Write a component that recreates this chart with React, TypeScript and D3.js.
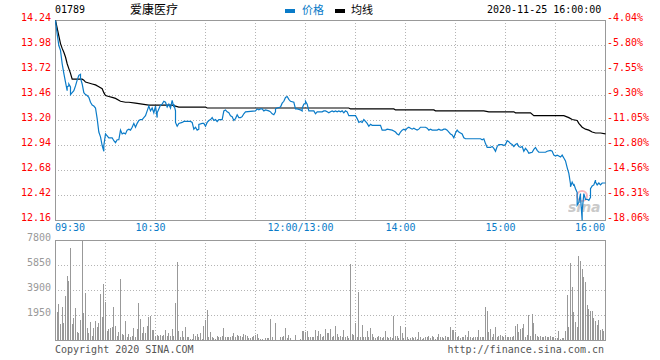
import * as d3 from "d3";

const W = 660;
const H = 360;
const LEFT = 55;
const RIGHT = 605;
const P_TOP = 20;
const P_BOT = 220;
const V_TOP = 240;
const V_BOT = 340;

const STOCK_CODE = "01789";
const STOCK_NAME = "爱康医疗";
const STAMP = "2020-11-25 16:00:00";
const LEGEND = ["价格", "均线"];

const PRICE_TICKS = [14.24, 13.98, 13.72, 13.46, 13.2, 12.94, 12.68, 12.42, 12.16];
const PCT_TICKS = ["-4.04%", "-5.80%", "-7.55%", "-9.30%", "-11.05%", "-12.80%", "-14.56%", "-16.31%", "-18.06%"];
const VOL_TICKS = [7800, 5850, 3900, 1950];
const TIME_TICKS: [number, string][] = [
  [0, "09:30"],
  [60, "10:30"],
  [150, "12:00/13:00"],
  [210, "14:00"],
  [270, "15:00"],
  [330, "16:00"],
];

// [minutes since open (lunch removed), price]
const PRICE: [number, number][] = [
  [0, 14.24], [1, 14.1], [2, 13.98], [3, 13.93], [4, 13.79], [5, 13.69], [6, 13.6], [7, 13.51], [7, 13.55],
  [8, 13.56], [8, 13.58], [9, 13.55], [9, 13.47], [10, 13.49], [11, 13.51], [12, 13.56], [13, 13.62],
  [14, 13.67], [15, 13.68], [15, 13.64], [16, 13.58], [17, 13.49], [18, 13.47], [19, 13.46], [20, 13.44],
  [21, 13.39], [22, 13.36], [23, 13.35], [24, 13.33], [25, 13.22], [26, 13.08], [27, 13.03], [28, 12.94],
  [29, 12.88], [29, 12.94], [30, 13.06], [31, 13.04], [32, 13.02], [34, 13.02], [35, 12.99], [36, 12.97],
  [37, 13.0], [38, 13.0], [39, 13.1], [40, 13.06], [41, 13.07], [42, 13.06], [43, 13.1], [44, 13.11],
  [45, 13.1], [46, 13.13], [47, 13.17], [48, 13.13], [49, 13.17], [50, 13.2], [51, 13.21], [52, 13.21],
  [53, 13.23], [54, 13.25], [55, 13.3], [56, 13.35], [57, 13.3], [58, 13.33], [59, 13.28], [60, 13.35],
  [61, 13.23], [61, 13.28], [62, 13.32], [63, 13.36], [64, 13.37], [65, 13.4], [66, 13.39], [67, 13.34],
  [68, 13.37], [69, 13.33], [70, 13.41], [71, 13.34], [71, 13.37], [72, 13.3], [72, 13.18], [73, 13.14],
  [74, 13.17], [76, 13.18], [77, 13.19], [81, 13.19], [82, 13.18], [83, 13.11], [84, 13.13], [85, 13.1],
  [86, 13.11], [86, 13.16], [88, 13.17], [89, 13.17], [90, 13.14], [91, 13.18], [92, 13.2], [93, 13.21],
  [94, 13.23], [95, 13.2], [96, 13.21], [97, 13.19], [98, 13.21], [100, 13.21], [101, 13.3], [102, 13.31],
  [103, 13.29], [104, 13.28], [105, 13.25], [106, 13.24], [107, 13.2], [108, 13.22], [109, 13.26],
  [110, 13.23], [111, 13.23], [112, 13.24], [113, 13.27], [114, 13.29], [120, 13.3], [121, 13.32],
  [122, 13.31], [123, 13.32], [124, 13.32], [125, 13.3], [126, 13.31], [128, 13.3], [129, 13.29],
  [130, 13.27], [131, 13.26], [132, 13.29], [132, 13.32], [133, 13.33], [135, 13.34], [136, 13.38],
  [137, 13.4], [138, 13.44], [139, 13.45], [140, 13.42], [141, 13.4], [143, 13.39], [144, 13.32],
  [145, 13.32], [147, 13.31], [148, 13.3], [148, 13.33], [149, 13.37], [150, 13.38], [150, 13.4],
  [151, 13.37], [152, 13.3], [155, 13.3], [156, 13.27], [157, 13.29], [160, 13.29], [161, 13.3],
  [162, 13.3], [163, 13.29], [164, 13.28], [165, 13.29], [166, 13.3], [167, 13.29], [168, 13.3],
  [169, 13.29], [170, 13.3], [171, 13.29], [172, 13.3], [173, 13.28], [174, 13.3], [175, 13.29],
  [176, 13.25], [180, 13.25], [181, 13.22], [182, 13.18], [183, 13.19], [184, 13.18], [185, 13.21],
  [186, 13.19], [187, 13.17], [188, 13.14], [189, 13.16], [190, 13.15], [195, 13.15], [196, 13.1],
  [198, 13.1], [199, 13.11], [202, 13.1], [203, 13.09], [204, 13.08], [205, 13.06], [206, 13.05],
  [207, 13.08], [208, 13.1], [209, 13.11], [210, 13.1], [211, 13.12], [212, 13.13], [213, 13.12],
  [214, 13.11], [215, 13.12], [216, 13.11], [217, 13.1], [218, 13.11], [219, 13.13], [222, 13.13],
  [223, 13.12], [224, 13.1], [225, 13.11], [226, 13.1], [229, 13.1], [230, 13.11], [231, 13.1],
  [232, 13.1], [233, 13.11], [234, 13.11], [235, 13.1], [236, 13.08], [237, 13.06], [238, 13.05],
  [239, 13.02], [240, 13.07], [241, 13.1], [242, 13.08], [243, 13.07], [244, 13.06], [245, 13.02],
  [246, 13.01], [255, 13.01], [256, 13.0], [257, 13.01], [258, 12.96], [259, 12.92], [261, 12.92],
  [262, 12.93], [263, 12.91], [264, 12.88], [265, 12.93], [266, 12.95], [268, 12.95], [269, 12.94],
  [270, 12.95], [271, 12.99], [272, 12.98], [273, 12.96], [274, 12.95], [275, 12.93], [276, 12.95],
  [277, 12.96], [278, 12.93], [279, 12.92], [280, 12.93], [281, 12.88], [282, 12.91], [283, 12.89],
  [284, 12.86], [286, 12.87], [287, 12.9], [288, 12.92], [289, 12.89], [290, 12.87], [294, 12.87],
  [295, 12.88], [297, 12.89], [298, 12.88], [299, 12.84], [300, 12.83], [301, 12.84], [302, 12.83],
  [303, 12.82], [304, 12.84], [305, 12.81], [306, 12.78], [307, 12.71], [308, 12.65], [309, 12.54],
  [309, 12.51], [310, 12.56], [311, 12.52], [311, 12.54], [312, 12.49], [313, 12.45], [313, 12.32],
  [314, 12.35], [315, 12.44], [315, 12.41], [316, 12.16], [316, 12.26], [317, 12.44], [318, 12.38],
  [319, 12.38], [320, 12.37], [321, 12.4], [321, 12.49], [322, 12.52], [323, 12.53], [324, 12.58],
  [324, 12.56], [325, 12.53], [326, 12.55], [327, 12.53], [328, 12.55], [330, 12.55],
];

const AVG: [number, number][] = [
  [0, 14.24], [2, 14.08], [3, 14.0], [4, 13.95], [5, 13.91], [6, 13.86], [7, 13.79], [8, 13.74], [9, 13.69],
  [10, 13.63], [16, 13.63], [17, 13.62], [18, 13.6], [20, 13.59], [22, 13.58], [24, 13.57], [26, 13.55],
  [28, 13.53], [29, 13.49], [30, 13.46], [32, 13.45], [34, 13.44], [36, 13.43], [39, 13.4], [42, 13.39],
  [44, 13.39], [48, 13.38], [52, 13.37], [56, 13.36], [70, 13.36], [72, 13.35], [74, 13.34], [90, 13.34],
  [91, 13.33], [176, 13.33], [177, 13.32], [203, 13.32], [204, 13.31], [227, 13.31], [228, 13.3],
  [257, 13.3], [260, 13.29], [275, 13.29], [276, 13.28], [285, 13.28], [287, 13.25], [305, 13.25],
  [308, 13.23], [310, 13.21], [313, 13.2], [314, 13.17], [316, 13.13], [318, 13.11], [320, 13.1],
  [322, 13.08], [324, 13.07], [327, 13.07], [330, 13.06],
];

// one bar per minute, starting at minute 1
const VOLUME = [
  2210, 2808, 1248, 2574, 1300, 3432, 4992, 4602, 7176, 1248, 1742, 2496, 650, 572, 1560, 7900, 2080, 3692,
  962, 572, 1430, 312, 962, 1482, 1014, 1352, 3588, 1820, 4342, 2990, 702, 858, 962, 1014, 2574, 1092,
  312, 650, 4758, 468, 364, 1482, 260, 494, 260, 312, 936, 260, 884, 2912, 1612, 520, 988, 572, 1092,
  1768, 1872, 780, 780, 312, 364, 312, 416, 312, 416, 780, 312, 572, 312, 884, 312, 2912, 6110, 728,
  260, 728, 208, 988, 208, 260, 52, 52, 468, 312, 468, 208, 572, 52, 1092, 1560, 2340, 208, 650, 260,
  130, 52, 312, 208, 260, 312, 936, 208, 234, 260, 208, 312, 520, 260, 364, 312, 312, 260, 468, 364,
  312, 156, 130, 260, 312, 364, 468, 130, 52, 52, 0, 130, 156, 156, 1638, 260, 0, 1352, 0, 0, 260, 260,
  312, 962, 130, 364, 130, 0, 0, 416, 0, 0, 104, 728, 728, 624, 676, 260, 208, 260, 208, 780, 312, 676,
  468, 260, 312, 884, 520, 572,
  884, 260, 312, 1092, 468, 260, 312, 208, 780, 260, 312, 130, 5928, 468, 390, 1300, 260, 3770, 260,
  1170, 260, 208, 702, 260, 962, 468, 260, 156, 208, 312, 260, 156, 208, 702, 260, 156, 208, 156, 1898,
  312, 312, 156, 1092, 572, 156, 1040, 208, 104, 156, 208, 156, 260, 104, 624, 260, 104, 130, 208, 260,
  312, 130, 312, 260, 104, 208, 468, 260, 260, 156, 312, 260, 208, 1040, 780, 780, 624, 208, 312, 156,
  208, 260, 390, 208, 728, 208, 156, 260, 208, 260, 780, 260, 260, 260, 2600, 2288, 650, 884, 260, 468,
  1040, 260, 312, 364, 312, 260, 364, 260, 260, 260, 208, 312, 1092, 1248, 624, 884, 962, 1248, 260,
  364, 1924, 312, 2028, 1300, 468, 312, 260, 312, 260, 260, 312, 260, 260, 312, 260, 208, 130, 130,
  702, 52, 130, 130, 702, 3510, 1040, 5980, 4160, 2210, 1430, 1040, 6552, 6162, 5538, 4940, 4498, 2730,
  2418, 2262, 2262, 1690, 1508, 1170, 1560, 780, 858, 728, 1872,
];

const BLUE = "#0a7bc8";
const RED = "#ff0000";
const GRID = "#b4b4b4";
const FRAME = "#999999";
const MONO = "'DejaVu Sans Mono', monospace";
const CJK = "'Noto Sans CJK SC', sans-serif";

export default function App() {
  const x = d3.scaleLinear().domain([0, 330]).range([LEFT + 0.5, RIGHT + 0.5]);
  const yP = d3.scaleLinear().domain([12.16, 14.24]).range([P_BOT + 0.5, P_TOP + 0.5]);
  const yV = d3.scaleLinear().domain([0, 7800]).range([V_BOT, V_TOP]).clamp(true);

  const line = d3
    .line<[number, number]>()
    .x((d) => x(d[0]))
    .y((d) => yP(d[1]));

  const gridMinutes = d3.range(30, 330, 30);

  return (
    <div style={{ position: "absolute", left: 0, top: 0 }}>
      <svg width={W} height={H} style={{ display: "block", background: "#fff" }}>
        {/* header */}
        <text x={55} y={13} fontFamily={MONO} fontSize={10} fill="#000">{STOCK_CODE}</text>
        <text x={130} y={14} fontFamily={CJK} fontSize={12} fill="#000">{STOCK_NAME}</text>
        <rect x={285} y={9} width={10} height={4} fill={BLUE} />
        <text x={302} y={14} fontFamily={CJK} fontSize={11} fill={BLUE}>{LEGEND[0]}</text>
        <rect x={335} y={9} width={10} height={4} fill="#000" />
        <text x={351} y={14} fontFamily={CJK} fontSize={11} fill="#000">{LEGEND[1]}</text>
        <text x={487} y={13} fontFamily={MONO} fontSize={10} fill="#000">{STAMP}</text>

        {/* price grid */}
        <g stroke={GRID} strokeDasharray="1,2" shapeRendering="crispEdges">
          {PRICE_TICKS.slice(1, -1).map((v) => (
            <line key={v} x1={LEFT} x2={RIGHT} y1={yP(v)} y2={yP(v)} />
          ))}
          {gridMinutes.map((m) => (
            <line key={m} x1={x(m)} x2={x(m)} y1={P_TOP} y2={P_BOT} />
          ))}
        </g>
        <rect x={LEFT + 0.5} y={P_TOP + 0.5} width={RIGHT - LEFT} height={P_BOT - P_TOP} fill="none" stroke={FRAME} shapeRendering="crispEdges" />

        {PRICE_TICKS.map((v) => (
          <text key={v} x={51} y={yP(v) + 0.5} textAnchor="end" fontFamily={MONO} fontSize={10} fill={RED}>
            {v.toFixed(2)}
          </text>
        ))}
        {PCT_TICKS.map((t, i) => (
          <text key={t} x={607} y={yP(PRICE_TICKS[i]) + 0.5} fontFamily={MONO} fontSize={10} fill={RED}>
            {t}
          </text>
        ))}

        {/* sina watermark */}
        <g opacity={0.75}>
          <circle cx={582} cy={196} r={5} fill="none" stroke="#f2a0a8" strokeWidth={2} />
          <text x={568} y={212} fontFamily="'DejaVu Sans', sans-serif" fontStyle="italic" fontWeight="bold" fontSize={14} fill="#b8b8b8">
            sina
          </text>
        </g>

        <path d={line(AVG) ?? ""} fill="none" stroke="#000" strokeWidth={1.2} />
        <path d={line(PRICE) ?? ""} fill="none" stroke={BLUE} strokeWidth={1.2} />

        {TIME_TICKS.map(([m, label], i) => (
          <text
            key={label}
            x={i === 0 ? LEFT : i === TIME_TICKS.length - 1 ? RIGHT : x(m) - 5}
            y={231}
            textAnchor={i === 0 ? "start" : i === TIME_TICKS.length - 1 ? "end" : "middle"}
            fontFamily={MONO}
            fontSize={10}
            fill={BLUE}
          >
            {label}
          </text>
        ))}

        {/* volume */}
        <g stroke={GRID} strokeDasharray="1,2" shapeRendering="crispEdges">
          {VOL_TICKS.slice(1).map((v) => (
            <line key={v} x1={LEFT} x2={RIGHT} y1={yV(v) + 0.5} y2={yV(v) + 0.5} />
          ))}
          {gridMinutes.map((m) => (
            <line key={m} x1={x(m)} x2={x(m)} y1={V_TOP} y2={V_BOT} />
          ))}
        </g>
        <g fill="#999" shapeRendering="crispEdges">
          {VOLUME.map((v, i) => (
            <rect key={i} x={Math.floor(x(i + 1))} y={yV(v)} width={1} height={V_BOT - yV(v)} />
          ))}
        </g>
        <rect x={LEFT + 0.5} y={V_TOP + 0.5} width={RIGHT - LEFT} height={V_BOT - V_TOP} fill="none" stroke={FRAME} shapeRendering="crispEdges" />
        {VOL_TICKS.map((v) => (
          <text key={v} x={51} y={yV(v) + 0.5} textAnchor="end" fontFamily={MONO} fontSize={10} fill="#999">
            {v}
          </text>
        ))}

        <text x={55} y={353} fontFamily={MONO} fontSize={10} fill="#555">Copyright 2020 SINA.COM</text>
        <text x={604} y={353} textAnchor="end" fontFamily={MONO} fontSize={10} fill="#555">http://finance.sina.com.cn</text>
      </svg>
    </div>
  );
}
